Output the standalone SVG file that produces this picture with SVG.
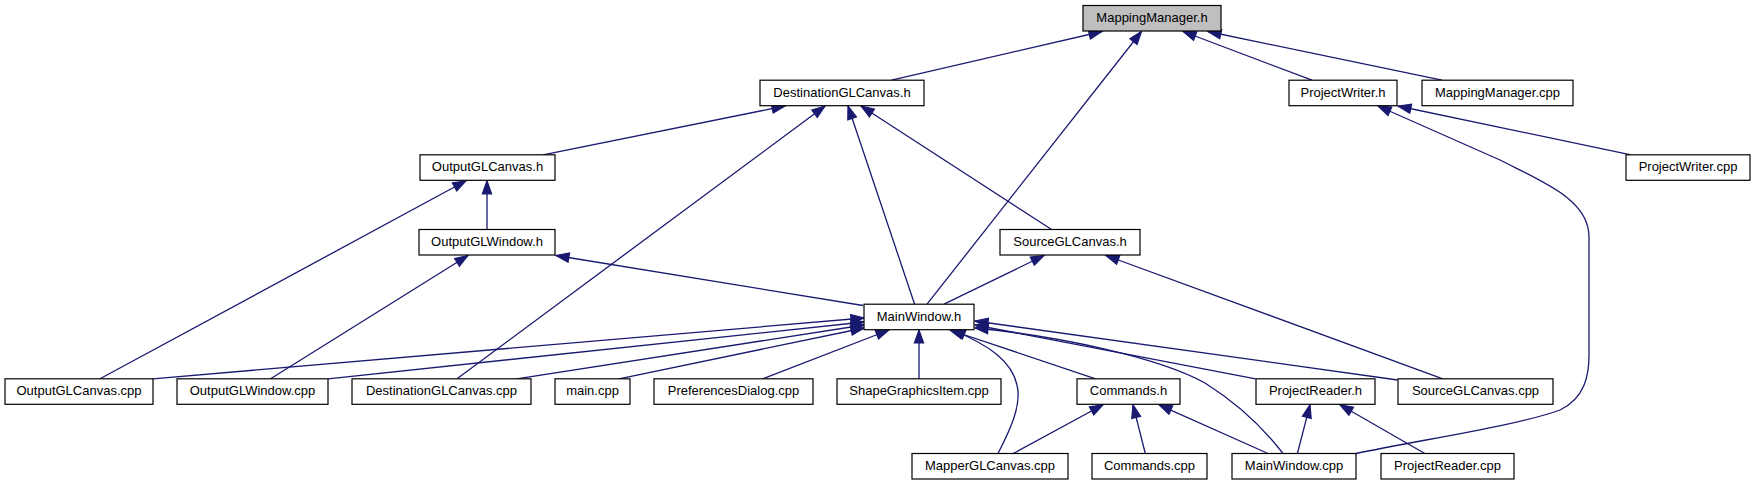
<svg xmlns="http://www.w3.org/2000/svg" width="1755" height="485" viewBox="0 0 1755 485">
<style>
.b{fill:#fff;stroke:#000;stroke-width:1.2}
.r{fill:#bfbfbf;stroke:#000;stroke-width:1.2}
.t{font-family:"Liberation Sans",Arial,sans-serif;font-size:13px;fill:#000;text-anchor:middle}
.e path{fill:none;stroke:#191970;stroke-width:1.3;marker-end:url(#ah)}
</style>
<defs>
<marker id="ah" markerUnits="userSpaceOnUse" markerWidth="16" markerHeight="12" refX="13" refY="5" orient="auto" style="overflow:visible">
<path d="M0,0.4 L13,5 L0,9.6 z" fill="#191970" stroke="#191970" stroke-width="1.2"/>
</marker>
</defs>
<rect width="1755" height="485" fill="#fff"/>
<g class="e" id="edges">
<path d="M891.6,80.2 L1102,31.5"/>
<path d="M927,304.2 L1141.5,31.5"/>
<path d="M1312,80.2 L1183,31.5"/>
<path d="M1442,80.2 L1208,31.5"/>
<path d="M543,154.8 L785,106"/>
<path d="M457,378.8 L825,106"/>
<path d="M914.6,304.2 L848,106"/>
<path d="M1051.6,229.5 L861,106"/>
<path d="M487,229.5 L487,180.8"/>
<path d="M100,378.8 L466,180.8"/>
<path d="M270.6,378.8 L468,255.5"/>
<path d="M863,305.5 L556,255.5"/>
<path d="M944,304.2 L1044,255.5"/>
<path d="M1442.8,378.8 L1106,255.5"/>
<path d="M1631,154.8 L1398,106"/>
<path d="M1356,453.5 C1420,440 1520,425 1560,410 C1585,398 1589,375 1589,355 L1589,237 C1589,200 1545,183 1500,160 L1378,106"/>
<path d="M153,378.8 L864,318"/>
<path d="M328,378.8 L864,322"/>
<path d="M516.6,378.8 L864,325"/>
<path d="M619,378.8 L864,328"/>
<path d="M762.6,378.8 L889,330"/>
<path d="M919,378.8 L919,330"/>
<path d="M998,453.5 C1010,430 1022,405 1017,385 C1012,362 990,345 952,330"/>
<path d="M1095.6,378.8 L950,330"/>
<path d="M1397.6,380 L975,321"/>
<path d="M1255.6,378.8 L975,325"/>
<path d="M1283,453.5 C1265,430 1240,405 1205,383 C1160,358 1060,336 975,328"/>
<path d="M1013.3,453.5 L1103,404.8"/>
<path d="M1145.3,453.5 L1133,404.8"/>
<path d="M1268,453.5 L1159,404.8"/>
<path d="M1297.4,453.5 L1310,404.8"/>
<path d="M1424.8,453.5 L1340,404.8"/>
</g>
<g id="n0"><rect class="r" x="1083" y="5.5" width="138" height="25.5"/><text class="t" x="1152" y="22">MappingManager.h</text></g>
<g id="n1"><rect class="b" x="760" y="80.2" width="164" height="25.5"/><text class="t" x="842" y="96.7">DestinationGLCanvas.h</text></g>
<g id="n2"><rect class="b" x="1289" y="80.2" width="108" height="25.5"/><text class="t" x="1343" y="96.7">ProjectWriter.h</text></g>
<g id="n3"><rect class="b" x="1422" y="80.2" width="151" height="25.5"/><text class="t" x="1497.5" y="96.7">MappingManager.cpp</text></g>
<g id="n4"><rect class="b" x="420" y="154.8" width="135" height="25.5"/><text class="t" x="487.5" y="171.3">OutputGLCanvas.h</text></g>
<g id="n5"><rect class="b" x="1626" y="154.8" width="124" height="25.5"/><text class="t" x="1688" y="171.3">ProjectWriter.cpp</text></g>
<g id="n6"><rect class="b" x="419" y="229.5" width="136" height="25.5"/><text class="t" x="487" y="246">OutputGLWindow.h</text></g>
<g id="n7"><rect class="b" x="1000" y="229.5" width="140" height="25.5"/><text class="t" x="1070" y="246">SourceGLCanvas.h</text></g>
<g id="n8"><rect class="b" x="864" y="304.2" width="110" height="25.5"/><text class="t" x="919" y="320.7">MainWindow.h</text></g>
<g id="n9"><rect class="b" x="5" y="378.8" width="148" height="25.5"/><text class="t" x="79" y="395.3">OutputGLCanvas.cpp</text></g>
<g id="n10"><rect class="b" x="177" y="378.8" width="151" height="25.5"/><text class="t" x="252.5" y="395.3">OutputGLWindow.cpp</text></g>
<g id="n11"><rect class="b" x="352" y="378.8" width="179" height="25.5"/><text class="t" x="441.5" y="395.3">DestinationGLCanvas.cpp</text></g>
<g id="n12"><rect class="b" x="555" y="378.8" width="75" height="25.5"/><text class="t" x="592.5" y="395.3">main.cpp</text></g>
<g id="n13"><rect class="b" x="654" y="378.8" width="159" height="25.5"/><text class="t" x="733.5" y="395.3">PreferencesDialog.cpp</text></g>
<g id="n14"><rect class="b" x="837" y="378.8" width="164" height="25.5"/><text class="t" x="919" y="395.3">ShapeGraphicsItem.cpp</text></g>
<g id="n15"><rect class="b" x="1077" y="378.8" width="103" height="25.5"/><text class="t" x="1128.5" y="395.3">Commands.h</text></g>
<g id="n16"><rect class="b" x="1256" y="378.8" width="119" height="25.5"/><text class="t" x="1315.5" y="395.3">ProjectReader.h</text></g>
<g id="n17"><rect class="b" x="1398" y="378.8" width="155" height="25.5"/><text class="t" x="1475.5" y="395.3">SourceGLCanvas.cpp</text></g>
<g id="n18"><rect class="b" x="912" y="453.5" width="156" height="25.5"/><text class="t" x="990" y="470">MapperGLCanvas.cpp</text></g>
<g id="n19"><rect class="b" x="1092" y="453.5" width="115" height="25.5"/><text class="t" x="1149.5" y="470">Commands.cpp</text></g>
<g id="n20"><rect class="b" x="1232" y="453.5" width="124" height="25.5"/><text class="t" x="1294" y="470">MainWindow.cpp</text></g>
<g id="n21"><rect class="b" x="1381" y="453.5" width="133" height="25.5"/><text class="t" x="1447.5" y="470">ProjectReader.cpp</text></g>
</svg>
